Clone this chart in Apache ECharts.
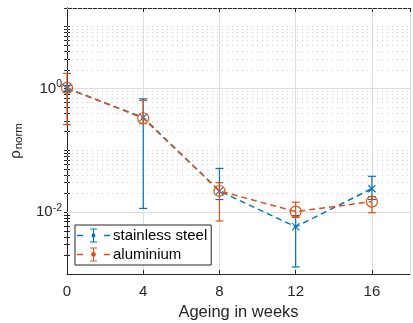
<!DOCTYPE html>
<html>
<head>
<meta charset="utf-8">
<script src="https://cdn.jsdelivr.net/npm/echarts@6/dist/echarts.min.js"></script>
<style>
html,body{margin:0;padding:0;background:#fff;}
#c{width:413px;height:323px;}
</style>
</head>
<body>
<div id="c"></div>
<script>
// ---- data ----
const weeks = [0, 4, 8, 12, 16];
const steel = [1.0, 0.34, 0.022, 0.0058, 0.024];
const steelLow = [0.88, 0.0115, 0.016, 0.0013, 0.016];
const steelHigh = [1.12, 0.68, 0.051, 0.0088, 0.038];
const alu = [1.02, 0.33, 0.022, 0.0102, 0.0148];
const aluLow = [0.26, 0.27, 0.0072, 0.0082, 0.0098];
const aluHigh = [1.75, 0.64, 0.030, 0.0145, 0.0178];
const xTicks = [0, 4, 8, 12, 16];
const yMajor = [0.01, 1];
const yLabels = {'0.01': '-2', '1': '0'};

const BLUE = '#0072BD', ORANGE = '#D95319', AX = '#262626';
const FONT = 'Liberation Sans, Arial, sans-serif';

// minor grid values (log decades)
const yMinor = [];
for (let d = -3; d <= 1; d++) {
  for (let k = 1; k <= 9; k++) {
    const v = +(k * Math.pow(10, d)).toPrecision(3);
    if (v <= 0.001 || v > 20) continue;
    if (yMajor.indexOf(v) >= 0) continue;
    yMinor.push(v);
  }
}

const chart = echarts.init(document.getElementById('c'), null, {renderer: 'canvas'});

function errSeries(name, color, lo, hi, z) {
  return {
    type: 'custom', name: name, z: z, silent: true,
    data: weeks.map((w, i) => [w, lo[i], hi[i]]),
    encode: {x: 0, y: [1, 2]},
    renderItem: (params, api) => {
      const x = api.value(0);
      const p1 = api.coord([x, api.value(1)]);
      const p2 = api.coord([x, api.value(2)]);
      const hw = 4;
      const style = {stroke: color, lineWidth: 1.2, fill: null};
      return {type: 'group', children: [
        {type: 'line', shape: {x1: p1[0], y1: p1[1], x2: p2[0], y2: p2[1]}, style: style},
        {type: 'line', shape: {x1: p1[0] - hw, y1: p1[1], x2: p1[0] + hw, y2: p1[1]}, style: style},
        {type: 'line', shape: {x1: p2[0] - hw, y1: p2[1], x2: p2[0] + hw, y2: p2[1]}, style: style}
      ]};
    }
  };
}

const gridLines = [];
yMinor.forEach(v => gridLines.push({yAxis: v, lineStyle: {type: [1, 4], color: '#cfcfcf', width: 1}}));
yMajor.forEach(v => gridLines.push({yAxis: v, lineStyle: {type: 'solid', color: '#dedede', width: 1}}));

const iconBase = 'M0 6.2h6v1.6h-6Z M27 6.2h6v1.6h-6Z M16 0h1v14h-1Z M13 0h7v1h-7Z M13 13h7v1h-7Z ';
const iconSteel = 'path://' + iconBase + 'M14.8 5.3h3.4v3.4h-3.4Z';
const iconAlu = 'path://' + iconBase + 'M16.5 4.6a2.4 2.4 0 1 1 -0.01 0Z';

const xMark = 'path://M1,0 L5,4 L9,0 L10,1 L6,5 L10,9 L9,10 L5,6 L1,10 L0,9 L4,5 L0,1 Z';

const option = {
  animation: false,
  textStyle: {fontFamily: FONT},
  grid: {left: 67, right: 3, top: 8, bottom: 49, containLabel: false, outerBoundsMode: 'none'},
  legend: {
    orient: 'vertical', left: 75, top: 225,
    backgroundColor: '#fff', borderColor: AX, borderWidth: 1, borderRadius: 0,
    padding: [2, 4, 2, 2], itemGap: 2, itemWidth: 33, itemHeight: 14,
    textStyle: {fontSize: 15, color: '#000', fontFamily: FONT, lineHeight: 17, padding: [0, 0, 0, -2]},
    data: [
      {name: 'stainless steel', icon: iconSteel, itemStyle: {color: BLUE, borderWidth: 0}},
      {name: 'aluminium', icon: iconAlu, itemStyle: {color: ORANGE, borderWidth: 0}}
    ]
  },
  xAxis: [{
    type: 'value', min: 0, max: 18, interval: 4, position: 'bottom',
    name: 'Ageing in weeks', nameLocation: 'middle', nameGap: 29,
    nameTextStyle: {fontSize: 16.5, color: AX, fontFamily: FONT},
    axisLine: {show: true, lineStyle: {color: AX, width: 1}},
    axisTick: {show: true, inside: true, length: 4, lineStyle: {color: AX}},
    axisLabel: {fontSize: 15, color: AX, margin: 10, showMaxLabel: false,
      formatter: v => (xTicks.indexOf(v) >= 0 ? String(v) : '')},
    splitLine: {show: true, lineStyle: {color: '#dedede', width: 1}}
  }, {
    type: 'value', min: 0, max: 18, interval: 4, position: 'top',
    axisLine: {show: true, lineStyle: {color: AX, width: 1}},
    axisTick: {show: true, inside: true, length: 4, lineStyle: {color: AX}},
    axisLabel: {show: false}, splitLine: {show: false}
  }],
  yAxis: [{
    type: 'log', logBase: 10, min: 0.001, max: 20, position: 'left',
    name: '{r|ρ}{s|norm}', nameLocation: 'middle', nameGap: 42, nameRotate: 90,
    nameTextStyle: {color: AX, fontFamily: FONT,
      rich: {r: {fontSize: 15, color: AX, fontFamily: FONT},
             s: {fontSize: 11.5, color: AX, fontFamily: FONT, padding: [7, 0, 0, 1]}}},
    axisLine: {show: true, lineStyle: {color: AX, width: 1}},
    axisTick: {show: true, inside: true, length: 3, lineStyle: {color: AX},
      customValues: yMinor.concat(yMajor)},
    axisLabel: {show: true, color: AX, fontSize: 15, margin: 5, customValues: yMajor,
      formatter: v => {
        const key = String(+(+v).toPrecision(3));
        return yLabels[key] !== undefined ? '10{sup|' + yLabels[key] + '}' : '';
      },
      rich: {sup: {fontSize: 10.5, color: AX, padding: [0, 0, 9, 0], fontFamily: FONT}}},
    splitLine: {show: false}
  }, {
    type: 'log', logBase: 10, min: 0.001, max: 20, position: 'right',
    axisLine: {show: true, lineStyle: {color: AX, width: 1}},
    axisTick: {show: true, inside: true, length: 3, lineStyle: {color: AX},
      customValues: yMinor.concat(yMajor)},
    axisLabel: {show: false}, splitLine: {show: false}
  }],
  series: [
    {
      type: 'line', name: 'grid', data: [], z: 1, silent: true,
      markLine: {silent: true, symbol: 'none', z: 1, label: {show: false},
        animation: false, data: gridLines}
    },
    {
      type: 'line', name: 'stainless steel', z: 3,
      data: weeks.map((w, i) => [w, steel[i]]),
      lineStyle: {color: BLUE, width: 1.5, type: [6, 4]},
      symbol: xMark, symbolSize: 8,
      itemStyle: {color: BLUE}
    },
    errSeries('stainless steel err', BLUE, steelLow, steelHigh, 3),
    {
      type: 'line', name: 'aluminium', z: 4,
      data: weeks.map((w, i) => [w, alu[i]]),
      lineStyle: {color: ORANGE, width: 1.5, type: [6, 4]},
      symbol: 'circle', symbolSize: 11,
      itemStyle: {color: 'rgba(0,0,0,0)', borderColor: ORANGE, borderWidth: 1.2}
    },
    errSeries('aluminium err', ORANGE, aluLow, aluHigh, 4)
  ]
};
chart.setOption(option);
</script>
</body>
</html>
